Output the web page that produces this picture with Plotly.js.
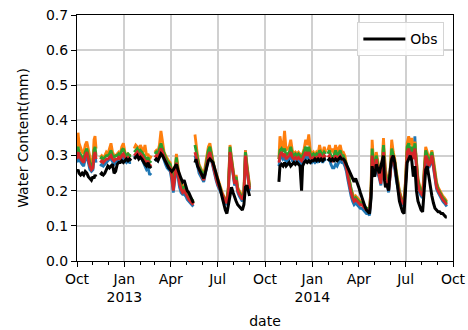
<!DOCTYPE html>
<html>
<head>
<meta charset="utf-8">
<script src="https://cdn.plot.ly/plotly-3.0.1.min.js"></script>
<style>
  html, body { margin: 0; padding: 0; background: #ffffff; }
  #chart { width: 468px; height: 330px; }
</style>
</head>
<body>
<div id="chart"></div>
<script>
// Sampling dates; a date with null values breaks the line (no record).
const dates = [
  '2012-10-01','2012-10-03','2012-10-05','2012-10-08','2012-10-11','2012-10-14','2012-10-17','2012-10-20','2012-10-23','2012-10-26','2012-10-29','2012-11-01','2012-11-03','2012-11-05','2012-11-07','2012-11-11',
  '2012-11-15','2012-11-18','2012-11-21','2012-11-24','2012-11-27','2012-11-30','2012-12-03','2012-12-06','2012-12-09','2012-12-12','2012-12-15','2012-12-18','2012-12-21','2012-12-24','2012-12-27','2012-12-30','2013-01-02','2013-01-05','2013-01-08','2013-01-11','2013-01-14','2013-01-17',
  '2013-01-20','2013-01-23','2013-01-26','2013-01-29','2013-02-01','2013-02-04','2013-02-07','2013-02-10','2013-02-13','2013-02-16','2013-02-19','2013-02-22','2013-02-26',
  '2013-03-01','2013-03-04','2013-03-07','2013-03-10','2013-03-13','2013-03-16','2013-03-19','2013-03-22','2013-03-25','2013-03-28','2013-03-31','2013-04-03','2013-04-06','2013-04-09','2013-04-12','2013-04-15','2013-04-18','2013-04-21','2013-04-24','2013-04-27','2013-04-30','2013-05-03','2013-05-06','2013-05-09','2013-05-12','2013-05-15','2013-05-17',
  '2013-05-18','2013-05-20','2013-05-23','2013-05-26','2013-05-29','2013-06-01','2013-06-04','2013-06-07','2013-06-10','2013-06-13','2013-06-16','2013-06-19','2013-06-22','2013-06-25','2013-06-28','2013-07-01','2013-07-04','2013-07-07','2013-07-10','2013-07-13','2013-07-16','2013-07-19','2013-07-22','2013-07-25','2013-07-28','2013-07-31','2013-08-03','2013-08-06','2013-08-09','2013-08-12','2013-08-15','2013-08-18','2013-08-21','2013-08-24','2013-08-27','2013-08-30','2013-09-01','2013-10-15',
  '2013-10-28','2013-10-30','2013-11-02','2013-11-05','2013-11-08','2013-11-11','2013-11-14','2013-11-17','2013-11-20','2013-11-23','2013-11-26','2013-11-29','2013-12-02','2013-12-05','2013-12-08','2013-12-11','2013-12-13','2013-12-16','2013-12-19','2013-12-22','2013-12-25','2013-12-28','2013-12-31','2014-01-03','2014-01-06','2014-01-09','2014-01-12','2014-01-15','2014-01-18','2014-01-21','2014-01-24','2014-01-27','2014-01-29',
  '2014-01-31','2014-02-03','2014-02-06','2014-02-09','2014-02-12','2014-02-15','2014-02-18','2014-02-21','2014-02-24','2014-02-27',
  '2014-03-02','2014-03-05','2014-03-08','2014-03-11','2014-03-14','2014-03-17','2014-03-20','2014-03-23','2014-03-26','2014-03-29',
  '2014-04-01','2014-04-04','2014-04-07','2014-04-10','2014-04-13','2014-04-16','2014-04-19','2014-04-22','2014-04-25','2014-04-27','2014-04-29',
  '2014-05-02','2014-05-05','2014-05-08','2014-05-11','2014-05-14','2014-05-17','2014-05-19','2014-05-21','2014-05-23','2014-05-26','2014-05-29',
  '2014-06-01','2014-06-04','2014-06-07','2014-06-10','2014-06-13','2014-06-16','2014-06-19','2014-06-22','2014-06-25','2014-06-28',
  '2014-07-01','2014-07-04','2014-07-07','2014-07-10','2014-07-13','2014-07-16','2014-07-19','2014-07-22','2014-07-25','2014-07-28','2014-07-31',
  '2014-08-03','2014-08-06','2014-08-09','2014-08-12','2014-08-15','2014-08-18','2014-08-21','2014-08-24','2014-08-27','2014-08-30',
  '2014-09-02','2014-09-05','2014-09-08','2014-09-11','2014-09-14','2014-09-17','2014-09-19'
];

// Observed water content (mm)
const obs = [
  .255,.26,.25,.245,.25,.245,.255,.25,.24,.235,.23,.24,.235,.245,.24,null,
  .245,.25,.245,.25,.26,.27,.265,.27,.275,.25,.255,.275,.28,.28,.285,.28,.285,.29,.285,.29,.285,null,
  .29,.295,.30,.29,.295,.29,.28,.275,.27,.28,.265,.27,null,
  .285,.29,.285,.295,.305,.30,.29,.28,.27,.265,.26,.255,.26,.27,.275,.26,.245,.235,.225,.23,.215,.20,.195,.185,.175,.165,null,
  .28,.29,.27,.26,.25,.24,.235,.25,.27,.285,.29,.285,.28,.265,.25,.235,.22,.20,.18,.16,.145,.135,.16,.19,.21,.195,.18,.17,.16,.155,.15,.145,.16,.21,.215,.19,.185,null,
  .225,.27,.275,.27,.28,.27,.275,.28,.27,.275,.28,.275,.28,.275,.27,.20,.27,.28,.285,.28,.285,.28,.285,.285,.29,.285,.29,.285,.29,.285,.29,.29,null,
  .285,.29,.285,.29,.285,.29,.285,.29,.295,.29,
  .29,.285,.275,.265,.25,.24,.23,.225,.235,.225,
  .21,.195,.18,.165,.155,.145,.14,.135,.18,.27,.25,
  .24,.275,.26,.25,.27,.29,.30,.23,.21,.22,.20,
  .26,.29,.30,.28,.24,.20,.17,.155,.14,.135,
  .20,.28,.29,.30,.285,.24,.27,.20,.17,.155,.145,
  .14,.21,.26,.27,.24,.21,.185,.165,.15,.145,
  .14,.14,.135,.135,.13,.125,.125
];

// Simulated water content, four model runs
const model1 = [ // blue
  .28,.30,.29,.28,.275,.27,.29,.30,.28,.26,.255,.26,.29,.30,.28,null,
  .27,.275,.27,.275,.28,.285,.29,.29,.28,.275,.28,.285,.29,.285,.29,.295,.285,.28,.285,.28,.28,null,
  .295,.30,.305,.295,.30,.29,.28,.27,.26,.265,.245,.25,null,
  .285,.29,.285,.30,.31,.30,.285,.275,.265,.26,.255,.23,.195,.23,.27,.24,.21,.195,.19,.19,.185,.175,.17,.165,.16,.155,null,
  .30,.29,.27,.25,.24,.235,.225,.245,.275,.295,.305,.285,.265,.245,.23,.215,.205,.195,.18,.17,.165,.16,.20,.31,.275,.235,.215,.225,.195,.185,.175,.17,.185,.315,.26,.22,.20,null,
  .27,.29,.30,.29,.295,.28,.285,.29,.30,.285,.28,.285,.28,.285,.28,.275,.28,.29,.30,.29,.30,.285,.28,.285,.28,.285,.28,.295,.285,.28,.29,.285,null,
  .285,.29,.275,.265,.265,.275,.27,.28,.29,.28,
  .28,.27,.255,.23,.205,.185,.17,.16,.165,.16,
  .155,.15,.15,.145,.14,.135,.135,.13,.19,.29,.26,
  .24,.28,.25,.235,.215,.26,.30,.26,.235,.215,.195,
  .235,.29,.28,.26,.23,.205,.185,.17,.16,.155,
  .215,.30,.31,.30,.32,.30,.355,.26,.215,.195,.185,
  .18,.235,.295,.285,.265,.275,.295,.265,.235,.205,
  .195,.185,.175,.17,.165,.16,.155
];
const model2 = [ // orange
  .31,.365,.335,.32,.31,.305,.33,.34,.315,.29,.275,.285,.345,.355,.32,null,
  .295,.30,.295,.30,.31,.305,.32,.335,.31,.30,.30,.305,.31,.305,.325,.335,.31,.30,.305,.30,.30,null,
  .32,.33,.325,.315,.33,.32,.31,.33,.30,.305,.29,.30,null,
  .31,.315,.31,.33,.37,.335,.31,.30,.29,.285,.28,.255,.215,.265,.305,.27,.235,.22,.21,.215,.205,.195,.19,.18,.175,.165,null,
  .36,.33,.30,.275,.265,.255,.245,.27,.30,.325,.335,.305,.285,.265,.25,.235,.22,.21,.195,.185,.175,.17,.215,.33,.295,.255,.23,.245,.21,.20,.19,.185,.20,.315,.275,.235,.215,null,
  .29,.355,.33,.32,.37,.315,.32,.325,.345,.315,.305,.31,.305,.31,.305,.30,.305,.32,.345,.33,.36,.315,.305,.31,.30,.31,.305,.33,.31,.305,.325,.31,null,
  .315,.33,.31,.32,.305,.33,.31,.32,.33,.31,
  .31,.30,.28,.255,.23,.205,.19,.18,.185,.18,
  .175,.17,.165,.16,.155,.15,.15,.145,.215,.345,.30,
  .27,.31,.285,.255,.235,.30,.35,.30,.26,.235,.215,
  .26,.345,.31,.29,.255,.225,.20,.185,.175,.165,
  .235,.335,.355,.33,.35,.31,.34,.28,.235,.215,.20,
  .195,.255,.325,.31,.29,.30,.315,.29,.255,.225,
  .21,.20,.19,.185,.18,.175,.17
];
const model3 = [ // green
  .30,.325,.31,.30,.295,.29,.31,.32,.30,.28,.27,.275,.315,.325,.30,null,
  .29,.295,.29,.295,.30,.30,.305,.315,.30,.295,.30,.30,.305,.30,.315,.32,.305,.30,.305,.30,.30,null,
  .31,.315,.32,.31,.315,.31,.30,.295,.29,.295,.28,.285,null,
  .305,.31,.305,.32,.335,.32,.305,.295,.285,.28,.275,.25,.21,.255,.295,.26,.23,.215,.205,.21,.20,.19,.185,.18,.175,.17,null,
  .33,.315,.29,.27,.26,.25,.24,.26,.29,.315,.325,.30,.28,.26,.245,.23,.215,.205,.19,.18,.175,.17,.21,.325,.29,.25,.225,.24,.205,.195,.185,.18,.195,.31,.27,.23,.21,null,
  .29,.315,.32,.31,.32,.30,.305,.31,.325,.305,.30,.305,.30,.305,.30,.295,.30,.31,.325,.31,.325,.305,.30,.305,.30,.305,.30,.315,.305,.30,.31,.305,null,
  .305,.315,.30,.295,.30,.315,.30,.305,.315,.30,
  .30,.29,.275,.25,.225,.20,.185,.175,.18,.175,
  .17,.165,.165,.16,.155,.15,.15,.145,.21,.32,.285,
  .26,.30,.275,.25,.23,.285,.33,.285,.25,.23,.21,
  .25,.32,.30,.28,.25,.22,.195,.18,.17,.165,
  .23,.325,.335,.315,.325,.30,.335,.27,.23,.21,.195,
  .19,.25,.315,.30,.28,.29,.31,.28,.25,.22,
  .205,.195,.185,.18,.175,.17,.165
];
const model4 = [ // red
  .29,.31,.30,.29,.285,.28,.30,.31,.29,.27,.26,.265,.30,.31,.29,null,
  .28,.285,.28,.285,.29,.29,.295,.30,.29,.285,.29,.29,.295,.29,.30,.305,.295,.29,.295,.29,.29,null,
  .30,.305,.31,.30,.305,.30,.29,.285,.28,.285,.27,.275,null,
  .295,.30,.295,.31,.32,.31,.295,.285,.275,.27,.265,.24,.20,.24,.28,.25,.22,.205,.195,.20,.19,.18,.175,.17,.165,.16,null,
  .31,.30,.28,.26,.25,.24,.23,.25,.28,.30,.31,.29,.27,.25,.235,.22,.21,.20,.185,.175,.17,.165,.20,.31,.28,.24,.22,.23,.20,.19,.18,.175,.19,.30,.26,.22,.205,null,
  .28,.30,.31,.30,.305,.29,.295,.30,.31,.295,.29,.295,.29,.295,.29,.285,.29,.30,.31,.30,.31,.295,.29,.295,.29,.295,.29,.305,.295,.29,.30,.295,null,
  .295,.30,.29,.285,.29,.30,.29,.295,.30,.29,
  .29,.28,.265,.24,.215,.195,.18,.17,.175,.17,
  .165,.16,.16,.155,.15,.145,.145,.14,.20,.30,.27,
  .25,.29,.26,.24,.22,.27,.31,.27,.24,.22,.20,
  .24,.30,.29,.27,.24,.21,.19,.175,.165,.16,
  .22,.31,.32,.30,.31,.29,.32,.26,.22,.20,.19,
  .185,.24,.30,.29,.27,.28,.30,.27,.24,.21,
  .20,.19,.18,.175,.17,.165,.16
];

const majorTickDates = ['2012-10-01','2013-01-01','2013-04-01','2013-07-01','2013-10-01','2014-01-01','2014-04-01','2014-07-01','2014-10-01'];
const majorTickText = ['Oct','Jan<br>2013','Apr','Jul','Oct','Jan<br>2014','Apr','Jul','Oct'];

const yTicks = [0, 0.1, 0.2, 0.3, 0.4, 0.5, 0.6, 0.7];

const modelRuns = [
  { y: model1, color: '#1f77b4' },
  { y: model2, color: '#ff7f0e' },
  { y: model3, color: '#2ca02c' },
  { y: model4, color: '#d62728' }
];

const traces = modelRuns.map(run => ({
  type: 'scatter', mode: 'lines', x: dates, y: run.y,
  line: { color: run.color, width: 2.8 },
  connectgaps: false, showlegend: false, hoverinfo: 'skip'
}));
traces.push({
  type: 'scatter', mode: 'lines', name: 'Obs', x: dates, y: obs,
  line: { color: '#000000', width: 3 },
  connectgaps: false, showlegend: true
});

const font = { family: 'DejaVu Sans, sans-serif', size: 14, color: '#000000' };

const layout = {
  width: 468, height: 330,
  margin: { l: 77, r: 15, t: 15, b: 69 },
  paper_bgcolor: '#ffffff', plot_bgcolor: '#ffffff',
  font: font,
  showlegend: true,
  legend: {
    x: 0.977, y: 0.97, xanchor: 'right', yanchor: 'top',
    itemwidth: 42,
    bgcolor: 'rgba(255,255,255,0.85)', bordercolor: '#d4d4d4', borderwidth: 1,
    font: font
  },
  xaxis: {
    type: 'date',
    range: ['2012-10-01', '2014-10-01'],
    tickmode: 'array', tickvals: majorTickDates, ticktext: majorTickText,
    ticks: 'outside', ticklen: 5, tickwidth: 1, tickcolor: '#000',
    minor: { ticks: 'outside', ticklen: 3, tickcolor: '#000', tick0: '2012-10-01', dtick: 'M1', showgrid: false },
    showgrid: true, gridcolor: '#d0d0d0', gridwidth: 2,
    showline: true, mirror: true, linecolor: '#000', linewidth: 1,
    zeroline: false,
    title: { text: 'date', font: font, standoff: 12 }
  },
  yaxis: {
    range: [0, 0.7],
    tickmode: 'array', tickvals: yTicks, tickformat: '.1f',
    ticks: 'outside', ticklen: 5, tickwidth: 1, tickcolor: '#000',
    showgrid: true, gridcolor: '#d0d0d0', gridwidth: 2,
    showline: true, mirror: true, linecolor: '#000', linewidth: 1,
    zeroline: false,
    title: { text: 'Water Content(mm)', font: font, standoff: 14 }
  }
};

Plotly.newPlot('chart', traces, layout, { displayModeBar: false, staticPlot: true });
</script>
</body>
</html>
